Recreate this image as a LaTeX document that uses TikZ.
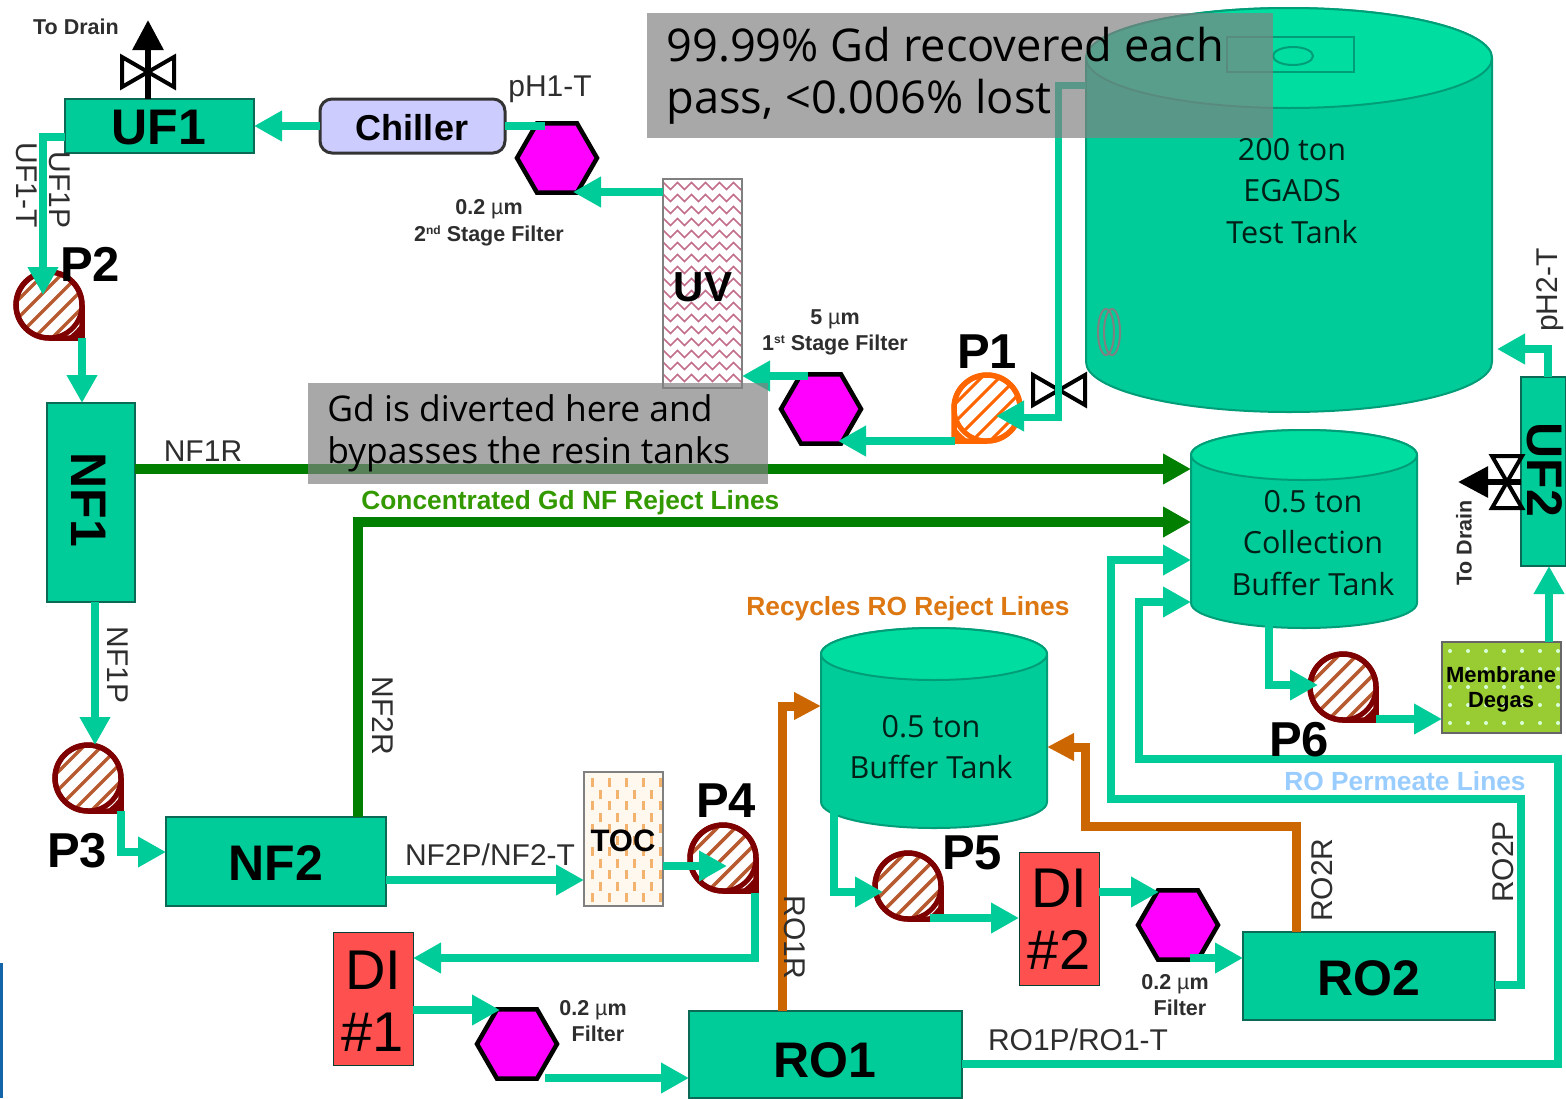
\documentclass[tikz,border=0pt]{standalone}
\usepackage{fontspec}
\setmainfont{Liberation Sans}
\newfontfamily\tankfont{Open Sans}
\usetikzlibrary{arrows.meta,shapes.geometric,decorations.pathmorphing}
\definecolor{flow}{HTML}{00CC99}
\definecolor{tanktop}{HTML}{00DDA0}
\definecolor{tankedge}{HTML}{009E78}
\definecolor{boxedge}{HTML}{0A6A55}
\definecolor{rejgreen}{HTML}{007F00}
\definecolor{rejorange}{HTML}{CC6600}
\definecolor{pumpred}{HTML}{7F0000}
\definecolor{stripe}{HTML}{B85A30}
\definecolor{pumporange}{HTML}{FF6600}
\definecolor{labelgrey}{HTML}{2E2E2E}
\definecolor{calloutgrey}{RGB}{130,130,130}
\definecolor{edgeblue}{RGB}{20,100,170}
\definecolor{chillerfill}{RGB}{204,204,255}
\definecolor{zig}{RGB}{195,110,140}
\definecolor{tocfill}{RGB}{255,248,238}
\definecolor{tocdash}{RGB}{243,178,110}
\definecolor{difill}{RGB}{255,80,80}
\definecolor{degasfill}{RGB}{153,204,51}
\definecolor{capgreen}{RGB}{51,153,0}
\definecolor{caporange}{RGB}{221,119,17}
\definecolor{capblue}{RGB}{153,204,255}
\definecolor{hexfill}{RGB}{255,0,255}
\newlength\px \setlength\px{0.5pt}
\newcommand{\fs}[1]{\fontsize{#1\px}{#1\px}\selectfont}
\newcommand{\ord}[1]{{\fs{12}\raisebox{3.5pt}{#1}}}
\tikzset{
 x=0.5pt,y=-0.5pt,
 unit/.style={draw=boxedge,line width=1.5\px,fill=flow,inner sep=0,outer sep=0},
 unittext/.style={inner sep=0,text=black,font=\fs{50}\bfseries},
 hexf/.style={regular polygon,regular polygon sides=6,minimum size=80\px,draw=black,line width=4.5\px,fill=hexfill,inner sep=0,outer sep=0},
 pipe/.style={line width=8\px,color=flow,-{Triangle[length=14pt,width=14.5pt]}},
 pipeplain/.style={line width=8\px,color=flow},
 greenline/.style={line width=10\px,color=rejgreen,-{Triangle[length=14pt,width=14.5pt]}},
 orangeline/.style={line width=9\px,color=rejorange,-{Triangle[length=13.5pt,width=13pt]}},
 drainline/.style={line width=6\px,color=black,-{Triangle[length=15pt,width=15pt]}},
 lab/.style={inner sep=0,text=labelgrey,font=\fs{30}},
 small/.style={inner sep=0,text=labelgrey,font=\fs{21.5}\bfseries,align=center},
 pname/.style={inner sep=0,text=black,font=\fs{49}\bfseries},
 tanktext/.style={inner sep=0,text=black!85!flow,font=\fs{30.5}\tankfont,align=center},
 hilite/.style={inner sep=0,font=\fs{26.3}\bfseries},
 greybox/.style={fill=calloutgrey,fill opacity=.69,inner sep=0,outer sep=0},
 greytexta/.style={inner sep=0,text=black,align=left,font=\fontsize{22.6pt}{26pt}\selectfont\tankfont},
 greytextb/.style={inner sep=0,text=black,align=left,font=\fontsize{17.7pt}{21pt}\selectfont\tankfont},
}
% name, cx, top ellipse cy, bottom ellipse cy, rx, ry
\newcommand{\tank}[6]{%
 \node[minimum width=#5*2\px,minimum height=#4*1\px-#3*1\px,inner sep=0,outer sep=0] (#1) at (#2,{(#3+#4)/2}) {};
 \draw[fill=flow,draw=tankedge,line width=2\px] (#2-#5,#3) -- (#2-#5,#4) arc[start angle=180,end angle=360,x radius=#5*0.5pt,y radius=#6*0.5pt] -- (#2+#5,#3) arc[start angle=0,end angle=180,x radius=#5*0.5pt,y radius=#6*0.5pt] -- cycle;
 \draw[fill=tanktop,draw=tankedge,line width=2\px] (#2,#3) ellipse[x radius=#5*0.5pt,y radius=#6*0.5pt];
}
% name, x, y, flip, outline, stripe colour, stripe width
\newcommand{\pump}[7]{%
 \node[circle,minimum size=66\px,inner sep=0,outer sep=0] (#1) at (#2,#3) {};
 \begin{scope}[shift={(#2,#3)},xscale=#4]
  \fill[white] (0pt,-16.5pt) arc[start angle=270,end angle=0,radius=16.5pt] -- (16.5pt,-16.5pt) -- cycle;
  \begin{scope}
   \clip (0pt,0pt) circle[radius=16.5pt];
   \foreach \i in {-5,...,5} \draw[#6,line width=#7\px] (-25pt,{\i*9pt-25pt*#4}) -- (25pt,{\i*9pt+25pt*#4});
  \end{scope}
  \fill[#5] (16.5pt,-9pt) -- (16.5pt,-16.5pt) -- (9pt,-16.5pt) -- (13pt,-13pt) -- cycle;
  \draw[#5,line width=5.5\px,line join=miter] (0pt,-16.5pt) arc[start angle=270,end angle=0,radius=16.5pt] -- (16.5pt,-16.5pt) -- cycle;
  \draw[#5,line width=5\px] (0pt,0pt) circle[radius=16.5pt];
 \end{scope}
}
% name, x, y, rotation
\newcommand{\valve}[4]{%
 \coordinate (#1) at (#2,#3);
 \draw[black,line width=4\px,fill=white,shift={(#2,#3)},rotate=#4] (-13pt,-7.5pt) -- (13pt,7.5pt) -- (13pt,-7.5pt) -- (-13pt,7.5pt) -- cycle;
}
\begin{document}
\begin{tikzpicture}
\useasboundingbox (0,0) rectangle (1566,1098);
\fill[white] (0,0) rectangle (1566,1098);
\fill[edgeblue] (0,963) rectangle (3,1098);

% tanks
\tank{egads}{1289}{58}{362}{203}{50}
\draw[tankedge,line width=2\px] (1227,37) rectangle (1354,72);
\draw[tankedge,line width=2\px] (1293,56) ellipse[x radius=10pt,y radius=4.5pt];
\draw[gray,line width=2\px] (1106,332) ellipse[x radius=4pt,y radius=11.5pt];
\draw[gray,line width=2\px] (1112,332) ellipse[x radius=4pt,y radius=11.5pt];
\tank{collect}{1304}{455}{603}{113}{25}
\tank{buffer}{934}{654}{802}{113}{26}

% process units
\node[unit,minimum width=189\px,minimum height=54\px] (uf1) at (159.5,126) {};
\node[unittext] (uf1text) at (159,128) {UF1};
\node[draw=black!80,line width=3\px,rounded corners=6pt,fill=chillerfill,minimum width=185\px,minimum height=54\px,inner sep=0,outer sep=0] (chiller) at (412.5,126) {};
\node[inner sep=0,font=\fs{36}\bfseries] (chillertext) at (412,128) {Chiller};
\node[unit,minimum width=88\px,minimum height=199\px] (nf1) at (91,502.5) {};
\node[unittext,rotate=-90] (nf1text) at (89,500) {NF1};
\node[unit,minimum width=220\px,minimum height=89\px] (nf2) at (276,861.5) {};
\node[unittext] (nf2text) at (276,863) {NF2};
\node[unit,minimum width=273\px,minimum height=87\px] (ro1) at (825.5,1054.5) {};
\node[unittext] (ro1text) at (825,1060) {RO1};
\node[unit,minimum width=252\px,minimum height=88\px] (ro2) at (1369,976) {};
\node[unittext] (ro2text) at (1369,978) {RO2};
\node[unit,minimum width=45\px,minimum height=189\px] (uf2) at (1543.5,471.5) {};
\node[unittext,rotate=-90] (uf2text) at (1545,470) {UF2};

% UV
\node[draw=gray,line width=2\px,fill=white,minimum width=79\px,minimum height=209\px,inner sep=0,outer sep=0] (uv) at (702.5,283.5) {};
\begin{scope}
 \clip (663,179) rectangle (742,388);
 \foreach \y in {186,198,...,384} \draw[zig,line width=1.5\px,decorate,decoration={zigzag,segment length=14\px,amplitude=3.5\px}] (660,\y) -- (745,\y);
\end{scope}
\draw[gray,line width=2\px] (663,179) rectangle (742,388);
\node[inner sep=0,font=\fs{42}\bfseries] (uvtext) at (703,287) {UV};

% TOC
\node[draw=gray,line width=2\px,fill=tocfill,minimum width=79\px,minimum height=134\px,inner sep=0,outer sep=0] (toc) at (623.5,839) {};
\begin{scope}
 \clip (584,772) rectangle (663,906);
 \foreach \r in {0,...,5} \foreach \c in {0,...,4}
  \fill[tocdash] ({591+\c*17},{778+\r*23}) rectangle ++(3,9);
 \foreach \r in {0,...,4} \foreach \c in {0,...,3}
  \fill[tocdash] ({599+\c*17},{790+\r*23}) rectangle ++(3,9);
\end{scope}
\draw[gray,line width=2\px] (584,772) rectangle (663,906);
\node[inner sep=0,font=\fs{31}\bfseries] (toctext) at (623,841) {TOC};

% DI beds
\node[draw=boxedge!60!black,line width=1\px,fill=difill,minimum width=80\px,minimum height=133\px,inner sep=0,outer sep=0] (di1) at (373,998.5) {};
\node[inner sep=0,font=\fs{56}] (di1a) at (373,970) {DI};
\node[inner sep=0,font=\fs{56}] (di1b) at (373,1032) {\#1};
\node[draw=boxedge!60!black,line width=1\px,fill=difill,minimum width=80\px,minimum height=133\px,inner sep=0,outer sep=0] (di2) at (1059,918.5) {};
\node[inner sep=0,font=\fs{56}] (di2a) at (1059,888) {DI};
\node[inner sep=0,font=\fs{56}] (di2b) at (1059,950) {\#2};

% membrane degas
\node[draw=black!60,line width=2\px,fill=degasfill,minimum width=119\px,minimum height=91\px,inner sep=0,outer sep=0] (degas) at (1501.5,687.5) {};
\foreach \r in {0,...,4} \foreach \c in {0,...,6}
 \fill[white!85!green] ({1450+\c*18},{651+\r*18}) circle[radius=1pt];
\node[inner sep=0,font=\fs{22}\bfseries,align=center] (degastext) at (1501,689) {Membrane\\[3\px]Degas};

% filters
\node[hexf] (hexa) at (557,158) {};
\node[hexf] (hexb) at (821,409) {};
\node[hexf] (hexc) at (517,1044) {};
\node[hexf] (hexd) at (1178,925) {};

% pumps
\pump{pa}{987}{408}{-1}{pumporange}{pumporange}{3}
\pump{pb}{49}{305}{1}{pumpred}{stripe}{3.5}
\pump{pc}{88}{778}{1}{pumpred}{stripe}{3.5}
\pump{pd}{723}{858}{1}{pumpred}{stripe}{3.5}
\pump{pe}{908}{886}{1}{pumpred}{stripe}{3.5}
\pump{pf}{1343}{687}{1}{pumpred}{stripe}{3.5}

% valves
\valve{va}{1059}{390}{0}
\valve{vb}{148}{72}{0}
\valve{vc}{1507}{482}{90}

% drains
\draw[drainline] (uf1.north -| 148,0) -- (148,20);
\draw[drainline] (uf2.west |- 0,482) -- (1458,482);

% flows
\draw[pipeplain,line width=7\px] (egads.west |- 0,85) -- (1058,85) -- (1058,417) -- (1022,417);
\draw[pipe] (1022,416) -- ([shift={(9,8)}]pa.center);
\draw[pipe] ([shift={(-32,33)}]pa.center) -- ([shift={(17,32)}]hexb.center);
\draw[pipe] ([shift={(-13,-33)}]hexb.center) -- (uv.east |- 0,376);
\draw[pipe] (uv.west |- 0,192) -- (573,192);
\draw[pipeplain] (chiller.east |- 0,126) -- (545,126);
\draw[pipe] (chiller.west) -- (uf1.east);
\draw[pipe] (uf1.west |- 0,137) -- (43,137) -- ([shift={(-6,-10)}]pb.center);
\draw[pipe] ([shift={(33,33)}]pb.center) -- (nf1.north -| 82,0);
\draw[pipe] (nf1.south -| 95,0) -- (pc.north -| 95,0);
\draw[pipe] ([shift={(33,33)}]pc.center) -- (121,852) -- (nf2.west |- 0,852);
\draw[pipe] (nf2.east |- 0,880) -- (toc.west |- 0,880);
\draw[pipe] (toc.east |- 0,866) -- ([shift={(4,8)}]pd.center);
\draw[pipe] ([shift={(32,35)}]pd.center) -- (755,958) -- (di1.east |- 0,958);
\draw[pipe] (di1.east |- 0,1010) -- ([shift={(-17,-34)}]hexc.center);
\draw[pipe] ([shift={(28,34)}]hexc.center) -- (ro1.west |- 0,1078);
\draw[pipe] (buffer.south -| 834,0) -- (834,892) -- ([shift={(-25,6)}]pe.center);
\draw[pipe] ([shift={(22,32)}]pe.center) -- (di2.west |- 0,918);
\draw[pipe] (di2.east |- 0,892) -- ([shift={(-19,-33)}]hexd.center);
\draw[pipe] ([shift={(12,33)}]hexd.center) -- (ro2.west |- 0,958);
\draw[pipe] (collect.south -| 1269,0) -- (1269,685) -- ([shift={(-25,-2)}]pf.center);
\draw[pipe] ([shift={(33,32)}]pf.center) -- (degas.west |- 0,719);
\draw[pipe] (degas.north -| 1549,0) -- (uf2.south -| 1549,0);
\draw[pipe] (uf2.north -| 1548,0) -- (1548,349) -- (1497,349);
\draw[pipe] (ro2.east |- 0,985) -- (1521,985) -- (1521,799) -- (1111,799) -- (1111,560) -- (collect.west |- 0,560);
\draw[pipe] (ro1.east |- 0,1064) -- (1558,1064) -- (1558,759) -- (1139,759) -- (1139,602) -- (collect.west |- 0,602);
\draw[greenline] (nf1.east |- 0,469) -- (collect.west |- 0,469);
\draw[greenline] (nf2.north -| 358,0) -- (358,522) -- (collect.west |- 0,522);
\draw[orangeline] (ro1.north -| 782,0) -- (782,706) -- (buffer.west |- 0,706);
\draw[orangeline] (ro2.north -| 1296,0) -- (1296,826) -- (1085,826) -- (1085,747) -- (buffer.east |- 0,747);

% grey callouts
\node[greybox,minimum width=626\px,minimum height=125\px] (calla) at (960,75.5) {};
\node[greybox,minimum width=460\px,minimum height=101\px] (callb) at (538,433.5) {};
\node[greytexta,anchor=west] (callatext) at (666,76) {99.99\% Gd recovered each\\pass, <0.006\% lost};
\node[greytextb,anchor=west] (callbtext) at (327,433.5) {Gd is diverted here and\\bypasses the resin tanks};

% tank text
\node[tanktext] (ta) at (1292,191) {200 ton\\[11\px]EGADS\\[11\px]Test Tank};
\node[tanktext] (tb) at (931,747) {0.5 ton\\[11\px]Buffer Tank};
\node[tanktext] (tc) at (1313,543) {0.5 ton\\[11\px]Collection\\[11\px]Buffer Tank};

% pump names
\node[pname] (na) at (987,352) {P1};
\node[pname] (nb) at (90,264) {P2};
\node[pname] (nc) at (77,851) {P3};
\node[pname] (nd) at (726,801) {P4};
\node[pname] (ne) at (972,853) {P5};
\node[pname] (nf) at (1299,740) {P6};

% line labels
\node[lab] (l1) at (550,89) {pH1-T};
\node[lab,rotate=-90] (l2) at (60,190) {UF1P};
\node[lab,rotate=-90] (l3) at (27,185) {UF1-T};
\node[lab] (l4) at (203,451) {NF1R};
\node[lab,rotate=-90] (l5) at (118,665) {NF1P};
\node[lab,rotate=-90] (l6) at (383,716) {NF2R};
\node[lab] (l7) at (490,855) {NF2P/NF2-T};
\node[lab,rotate=-90] (l8) at (795,937) {RO1R};
\node[lab] (l9) at (1078,1040) {RO1P/RO1-T};
\node[lab,rotate=90] (l10) at (1322,880) {RO2R};
\node[lab,rotate=90] (l11) at (1503,862) {RO2P};
\node[lab,rotate=90] (l12) at (1550,290) {pH2-T};

% small notes
\node[small] (s1) at (76,27) {To Drain};
\node[small,rotate=90] (s2) at (1464,543) {To Drain};
\node[small] (s3) at (489,223) {0.2 {\mdseries µ}m\\[5\px]2\ord{nd} Stage Filter};
\node[small] (s4) at (835,332.5) {5 {\mdseries µ}m\\[5\px]1\ord{st} Stage Filter};
\node[small] (s5) at (593,1021) {0.2 {\mdseries µ}m\\[5\px]\hspace*{10\px}Filter};
\node[small] (s6) at (1175,995) {0.2 {\mdseries µ}m\\[5\px]\hspace*{10\px}Filter};

% coloured captions
\node[hilite,text=capgreen,anchor=west] (c1) at (361,503) {Concentrated Gd NF Reject Lines};
\node[hilite,text=caporange,anchor=west] (c2) at (746,609) {Recycles RO Reject Lines};
\node[hilite,text=capblue,anchor=west] (c3) at (1284,781) {RO Permeate Lines};
\end{tikzpicture}
\end{document}
